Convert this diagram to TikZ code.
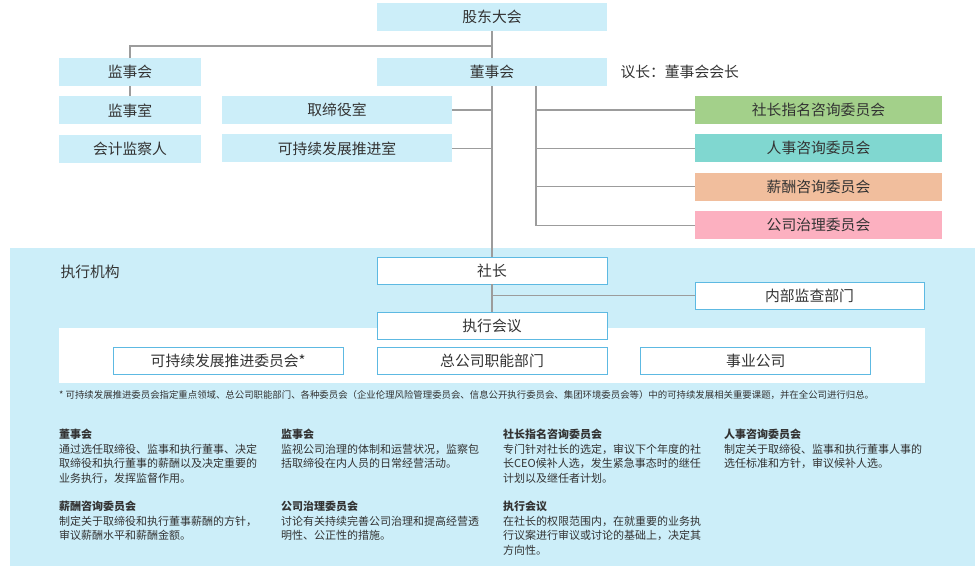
\documentclass[tikz,border=0pt]{standalone}
\usepackage{fontspec}
\setmainfont{Noto Sans CJK SC}
\usetikzlibrary{positioning}

\definecolor{boxblue}{HTML}{CCEEF9}
\definecolor{execblue}{HTML}{5DB9E2}
\definecolor{linegray}{HTML}{9C9C9C}
\definecolor{textgray}{HTML}{333333}
\definecolor{nomgreen}{HTML}{A3D08A}
\definecolor{hrteal}{HTML}{80D7D0}
\definecolor{paypeach}{HTML}{F1BE9D}
\definecolor{govpink}{HTML}{FCB0C0}

\tikzset{
    box/.style={fill=boxblue, minimum width=230pt, minimum height=28pt, inner sep=0pt,
        text=textgray, font=\fontsize{14.8}{16}\selectfont},
    smallbox/.style={box, minimum width=142pt},
    cmte/.style={box, minimum width=247pt},
    exec/.style={box, fill=white, draw=execblue, line width=0.8pt, minimum height=27pt},
    link/.style={draw=linegray, line width=1.2pt},
    desc/.style={anchor=north west, align=left, inner sep=0pt, text=textgray,
        font=\fontsize{11}{14.6}\selectfont},
}

\begin{document}
\begin{tikzpicture}[x=1pt, y=-1pt, node distance=10pt]
        \useasboundingbox (0,0) rectangle (980,573);
        % Backgrounds
        \fill[boxblue] (10,248) rectangle (975,566);
        \fill[white] (59,328) rectangle (925,383);

        % Add the boards
        \node[box]                      (gm)     at (492,17)  {股东大会};
        \node[box]                      (board)  at (492,72)  {董事会};
        \node[smallbox]                 (audit)  at (130,72)  {监事会};
        \node[smallbox, below=of audit] (aroom)  {监事室};
        \node[smallbox, below=of aroom] (acct)   {会计监察人};
        \node[box]                      (droom)  at (337,110) {取缔役室};
        \node[box, below=of droom]      (sroom)  {可持续发展推进室};
        \node[anchor=west, text=textgray, font=\fontsize{14.8}{16}\selectfont]
            (chair) at (617,72) {议长：董事会会长};

        % Add the committees
        \node[cmte, fill=nomgreen]            (c1) at (818.5,110) {社长指名咨询委员会};
        \node[cmte, fill=hrteal, below=of c1]   (c2) {人事咨询委员会};
        \node[cmte, fill=paypeach, below=of c2] (c3) {薪酬咨询委员会};
        \node[cmte, fill=govpink, below=of c3]  (c4) {公司治理委员会};

        % Add the executive side
        \node[anchor=west, text=textgray, font=\fontsize{14.8}{16}\selectfont]
            (execlabel) at (57,272) {执行机构};
        \node[exec]                          (pres)    at (492,270.5) {社长};
        \node[exec, minimum width=229pt]     (iaudit)  at (809.5,295.5) {内部监查部门};
        \node[exec]                          (emtg)    at (492,325.5) {执行会议};
        \node[exec, below=8pt of emtg]       (hq)      {总公司职能部门};
        \node[exec, left=33pt of hq]         (scom)    {可持续发展推进委员会*};
        \node[exec, right=33pt of hq]        (biz)     {事业公司};

        \coordinate (split) at (492,46);
        \coordinate (cbus)  at (536,86);

        \draw[link] (gm) -- (board);
        \draw[link] (board) -- (pres);
        \draw[link] (audit.north) |- (split);
        \draw[link] (audit) -- (aroom);
        \draw[link] (droom.east) -- (droom.east -| gm.south);
        \draw[link] (sroom.east) -- (sroom.east -| gm.south);
        \draw[link] (cbus) |- (c4.west);
        \foreach \c in {c1,c2,c3}
            \draw[link] (cbus |- \c.west) -- (\c.west);
        \draw[link] (pres) -- (emtg);
        \draw[link] (pres.south |- iaudit.west) -- (iaudit.west);

        % Footnote
        \node[anchor=west, inner sep=0pt, text=textgray, font=\fontsize{9.4}{11}\selectfont]
            (fnote) at (59,395) {* 可持续发展推进委员会指定重点领域、总公司职能部门、各种委员会（企业伦理风险管理委员会、信息公开执行委员会、集团环境委员会等）中的可持续发展相关重要课题，并在全公司进行归总。};

        % Descriptions
        \node[desc] (dboard) at (59,429)  {\textbf{董事会}\\通过选任取缔役、监事和执行董事、决定\\取缔役和执行董事的薪酬以及决定重要的\\业务执行，发挥监督作用。};
        \node[desc] (daudit) at (281,429) {\textbf{监事会}\\监视公司治理的体制和运营状况，监察包\\括取缔役在内人员的日常经营活动。};
        \node[desc] (dnom)   at (503,429) {\textbf{社长指名咨询委员会}\\专门针对社长的选定，审议下个年度的社\\长CEO候补人选，发生紧急事态时的继任\\计划以及继任者计划。};
        \node[desc] (dhr)    at (724,429) {\textbf{人事咨询委员会}\\制定关于取缔役、监事和执行董事人事的\\选任标准和方针，审议候补人选。};
        \node[desc] (dpay)   at (59,501)  {\textbf{薪酬咨询委员会}\\制定关于取缔役和执行董事薪酬的方针，\\审议薪酬水平和薪酬金额。};
        \node[desc] (dgov)   at (281,501) {\textbf{公司治理委员会}\\讨论有关持续完善公司治理和提高经营透\\明性、公正性的措施。};
        \node[desc] (demtg)  at (503,501) {\textbf{执行会议}\\在社长的权限范围内，在就重要的业务执\\行议案进行审议或讨论的基础上，决定其\\方向性。};
\end{tikzpicture}
\end{document}
